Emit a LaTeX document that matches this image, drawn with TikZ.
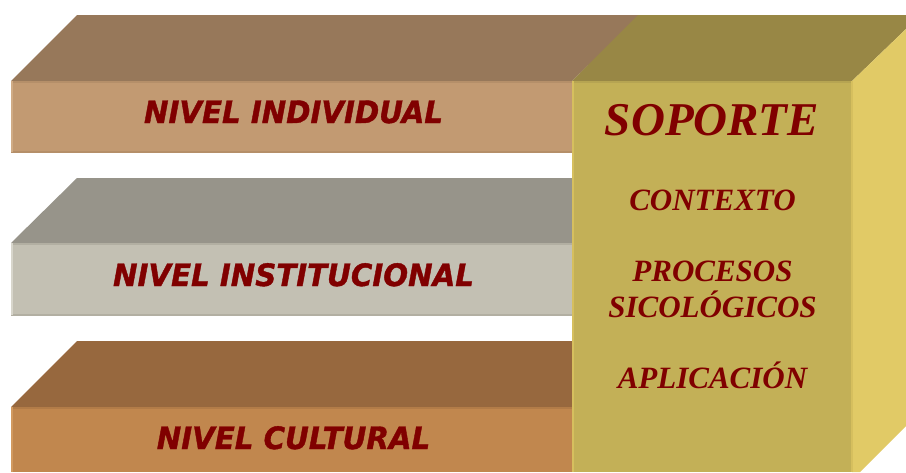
\documentclass[tikz,border=0pt]{standalone}
\usepackage{fontspec}
\setmainfont{Liberation Serif}
\newfontfamily\bandfont[BoldItalicFeatures={FakeStretch=0.95,FakeBold=1.2}]{DejaVu Sans}
\definecolor{txt}{HTML}{800000}
\definecolor{topa}{HTML}{97785A}
\definecolor{fronta}{HTML}{C29A72}
\definecolor{edgea}{HTML}{B58F69}
\definecolor{lighta}{HTML}{D0AC86}
\definecolor{topb}{HTML}{97948A}
\definecolor{frontb}{HTML}{C3C0B3}
\definecolor{edgeb}{HTML}{B2AFA2}
\definecolor{lightb}{HTML}{D8D6CC}
\definecolor{topc}{HTML}{97683E}
\definecolor{frontc}{HTML}{C1874E}
\definecolor{edgec}{HTML}{B27C48}
\definecolor{lightc}{HTML}{D29A60}
\definecolor{tops}{HTML}{988745}
\definecolor{fronts}{HTML}{C3B057}
\definecolor{sides}{HTML}{E1CA66}
\definecolor{edges}{HTML}{D6BF5E}
\definecolor{edget}{HTML}{B6A452}
\tikzset{
  bandlabel/.style={font=\bandfont\bfseries\itshape\fontsize{30.8}{33}\selectfont,text=txt,inner sep=0pt,anchor=base},
  sidelabel/.style={font=\bfseries\itshape\fontsize{31}{36}\selectfont,text=txt,inner sep=0pt,anchor=base},
  titlelabel/.style={font=\bfseries\itshape\fontsize{47}{50}\selectfont,text=txt,inner sep=0pt,anchor=base},
}
\begin{document}
\begin{tikzpicture}[x=1pt,y=-1pt]
\useasboundingbox (0,0) rectangle (906,472);
% band 1
\fill[topa] (77,15) -- (640,15) -- (572,81) -- (11,81) -- cycle;
\fill[fronta] (11,81) rectangle (572,152);
\fill[edgea] (11,80.5) rectangle (572,82.5);
\fill[edgea] (11,151) rectangle (572,152.5);
\fill[lighta] (10.5,81) rectangle (12.5,152);
% band 2
\fill[topb] (77,178) -- (640,178) -- (572,243) -- (11,243) -- cycle;
\fill[frontb] (11,243) rectangle (572,315);
\fill[edgeb] (11,243) rectangle (572,245);
\fill[edgeb] (11,314) rectangle (572,315.5);
\fill[lightb] (10.5,243) rectangle (12.5,315);
% band 3
\fill[topc] (77,341) -- (640,341) -- (572,407) -- (11,407) -- cycle;
\fill[frontc] (11,407) rectangle (572,472);
\fill[edgec] (11,407) rectangle (572,409);
\fill[lightc] (10.5,407) rectangle (12.5,472);
% support block
\fill[tops] (572,81) -- (638,15) -- (906,15) -- (906,29) -- (852,81) -- cycle;
\fill[sides] (852,81) -- (906,29) -- (906,426) -- (860,472) -- (852,472) -- cycle;
\fill[fronts] (571.5,81) rectangle (852,472);
\fill[edget] (571.5,80.5) rectangle (852,82.5);
\fill[edges] (571.5,81) rectangle (574,472);
\fill[edges] (851,81) rectangle (853,472);
% labels
\node[bandlabel] (individual) at (293.5,123) {NIVEL INDIVIDUAL};
\node[bandlabel] (institucional) at (293.5,286) {NIVEL INSTITUCIONAL};
\node[bandlabel] (cultural) at (293.5,449) {NIVEL CULTURAL};
\node[titlelabel] (soporte) at (712,135) {SOPORTE};
\node[sidelabel] (contexto) at (712.5,210) {CONTEXTO};
\node[sidelabel] (procesos) at (712.5,281) {PROCESOS};
\node[sidelabel] (sicologicos) at (712.5,317) {SICOLÓGICOS};
\node[sidelabel] (aplicacion) at (712.5,388.5) {APLICACIÓN};
\end{tikzpicture}
\end{document}
